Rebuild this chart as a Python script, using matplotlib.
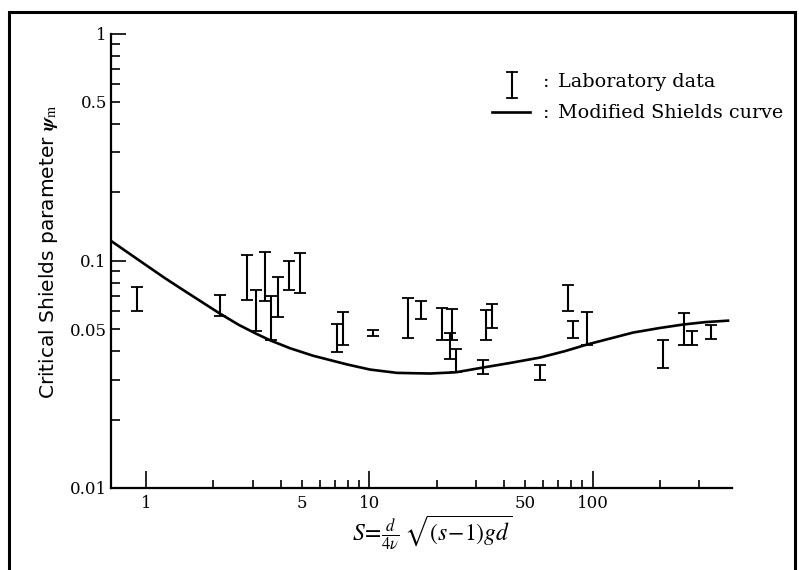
import matplotlib
matplotlib.use('Agg')
import matplotlib.pyplot as plt
from matplotlib.lines import Line2D
from matplotlib.patches import Rectangle

# ---------------- data ----------------
lab_s = [0.912, 2.14, 2.82, 3.10, 3.41, 3.62, 3.91, 4.38, 4.89, 7.18, 7.64,
         10.35, 14.85, 16.98, 21.1, 23.5, 22.97, 24.4, 33.3, 35.3, 32.2,
         58.1, 77.8, 82.0, 94.6, 206, 257.6, 278, 339]
lab_lo = [0.0600, 0.0570, 0.0675, 0.0490, 0.0668, 0.0450, 0.0566, 0.0747, 0.0722,
          0.0397, 0.0424, 0.0466, 0.0458, 0.0557, 0.0450, 0.0447, 0.0368, 0.0323,
          0.0450, 0.0507, 0.0318, 0.0298, 0.0600, 0.0458, 0.0424, 0.0336, 0.0428,
          0.0428, 0.0454]
lab_hi = [0.0764, 0.0705, 0.1064, 0.0741, 0.1093, 0.0698, 0.0849, 0.1000, 0.1082,
          0.0529, 0.0593, 0.0494, 0.0687, 0.0668, 0.0620, 0.0614, 0.0482, 0.0410,
          0.0605, 0.0646, 0.0365, 0.0347, 0.0785, 0.0542, 0.0596, 0.0446, 0.0590,
          0.0493, 0.0519]

curve_s = [0.70, 0.846, 1.0, 1.22, 1.49, 1.78, 2.14, 2.6, 3.10, 3.62, 4.41, 5.59,
           7.91, 10.06, 13.3, 18.7, 24.4, 32.3, 42.7, 58.1, 75.0, 94.4, 120,
           151.7, 200, 254, 320, 404]
curve_psi = [0.1217, 0.1070, 0.0955, 0.0835, 0.0735, 0.0657, 0.0585, 0.0522,
             0.0478, 0.0445, 0.0412, 0.0382, 0.0350, 0.0332, 0.0321, 0.0319,
             0.0323, 0.0339, 0.0355, 0.0375, 0.0400, 0.0428, 0.0455, 0.0483,
             0.0506, 0.0524, 0.0537, 0.0545]

x_major = [1, 10, 100]
x_major_labels = ['1', '10', '100']
x_minor = [2, 3, 4, 5, 6, 7, 8, 9, 20, 30, 40, 50, 60, 70, 80, 90, 200, 300]
x_minor_labels = ['', '', '', '5', '', '', '', '', '', '', '', '50', '', '', '', '', '', '']
y_major = [0.01, 0.1, 1]
y_major_labels = ['0.01', '0.1', '1']
y_minor = [0.02, 0.03, 0.04, 0.05, 0.06, 0.07, 0.08, 0.09,
           0.2, 0.3, 0.4, 0.5, 0.6, 0.7, 0.8, 0.9]
y_minor_labels = ['', '', '', '0.05', '', '', '', '',
                  '', '', '', '0.5', '', '', '', '']

legend_labels = ['Laboratory data', 'Modified Shields curve']
ylabel_text = 'Critical Shields parameter '
xlabel_text = r'$S\!=\!\frac{d}{4\nu}\;\sqrt{(s\!-\!1)gd}$'

# ---------------- figure ----------------
plt.rcParams['mathtext.fontset'] = 'stix'
W, H = 799, 570
fig = plt.figure(figsize=(W / 100, H / 100), dpi=100)
fx = lambda px: px / W
fy = lambda py: 1 - py / H

ax = fig.add_axes([fx(111), fy(488), fx(732) - fx(111), fy(33.5) - fy(488)])
ax.set_xscale('log')
ax.set_yscale('log')
ax.set_xlim(0.695, 421)
ax.set_ylim(0.01, 1)

for side in ('top', 'right'):
    ax.spines[side].set_visible(False)
for side in ('left', 'bottom'):
    ax.spines[side].set_linewidth(1.6)

ax.plot(curve_s, curve_psi, color='black', lw=1.9, solid_joinstyle='round')
yerr_lo = [0 for _ in lab_lo]
yerr_hi = [h - l for h, l in zip(lab_hi, lab_lo)]
ax.errorbar(lab_s, lab_lo, yerr=[yerr_lo, yerr_hi], fmt='none', ecolor='black',
            elinewidth=1.5, capsize=4.5, capthick=1.3)

tick_font = dict(family='DejaVu Serif', size=12)
ax.set_xticks(x_major, labels=x_major_labels, **tick_font)
ax.set_xticks(x_minor, labels=x_minor_labels, minor=True, **tick_font)
ax.set_yticks(y_major, labels=y_major_labels, **tick_font)
ax.set_yticks(y_minor, labels=y_minor_labels, minor=True, **tick_font)
ax.tick_params(which='both', direction='in', width=1.2, colors='black')
ax.tick_params(axis='x', which='major', length=12, pad=5)
ax.tick_params(axis='x', which='minor', length=6, pad=5)
ax.tick_params(axis='y', which='major', length=11, pad=3)
ax.tick_params(axis='y', which='minor', length=6.5, pad=3)

# axis titles
fig.text(fx(49), fy(252), ylabel_text + r'$\boldsymbol{\psi}_{\mathrm{m}}$',
         rotation=90, ha='center', va='center', family='DejaVu Sans', fontsize=14.5)
fig.text(fx(432), fy(533), xlabel_text, ha='center', va='center', fontsize=17)

# legend (drawn by hand)
leg_font = dict(family='DejaVu Serif', size=13.8, va='center', ha='left')
ix = fx(511.7)
fig.add_artist(Line2D([ix, ix], [fy(72), fy(98)], color='black', lw=1.5))
for yy in (72, 98):
    fig.add_artist(Line2D([fx(507), fx(516.5)], [fy(yy), fy(yy)], color='black', lw=1.3))
fig.add_artist(Line2D([fx(492), fx(530)], [fy(111.7), fy(111.7)], color='black', lw=1.9))
fig.text(fx(543), fy(82), ':', **leg_font)
fig.text(fx(558), fy(82), legend_labels[0], **leg_font)
fig.text(fx(543), fy(113), ':', **leg_font)
fig.text(fx(558), fy(113), legend_labels[1], **leg_font)

# scan frame
fig.add_artist(Rectangle((fx(9), fy(580)), fx(795) - fx(9), fy(12) - fy(580),
                         fill=False, edgecolor='black', lw=2.2, transform=fig.transFigure,
                         clip_on=False))

fig.savefig('out.png', dpi=100, facecolor='white')
